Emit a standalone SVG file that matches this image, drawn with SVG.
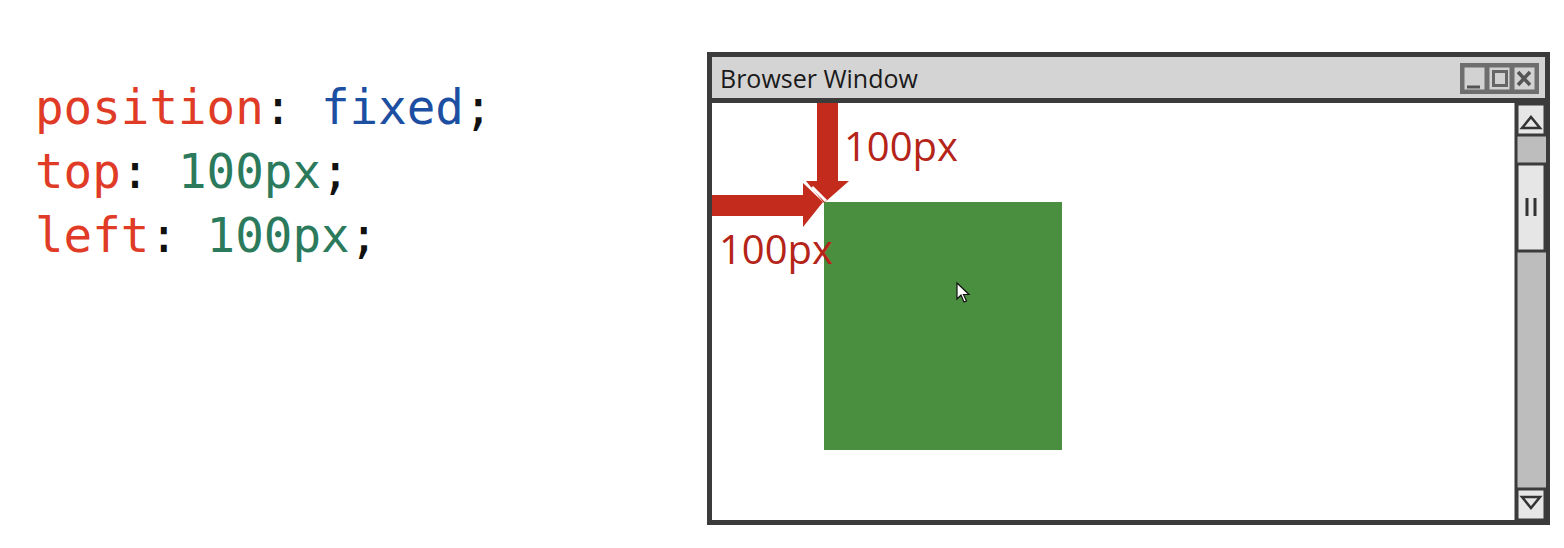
<svg xmlns="http://www.w3.org/2000/svg" width="1564" height="548" viewBox="0 0 1564 548">
  <style>
    .code { font-family: "DejaVu Sans Mono", "Liberation Mono", monospace; font-size: 47.5px; }
    .prop { fill: #df3b26; }
    .punc { fill: #111111; }
    .kw { fill: #1c4fa1; }
    .num { fill: #2c7a5c; }
    .title { font-family: "Open Sans", "Liberation Sans", sans-serif; font-size: 25px; fill: #1a1a1a; }
    .dim { font-family: "Open Sans", "Liberation Sans", sans-serif; font-size: 40px; fill: #b52418; }
    .frame { stroke: #3b3b3b; }
    .arrow { fill: #c32b1c; }
    .btn { fill: #d2d2d2; stroke: #6e6e6e; stroke-width: 3; }
    .sb { fill: #e6e6e6; stroke: #3b3b3b; stroke-width: 3; }
  </style>

  <rect width="1564" height="548" fill="#ffffff"/>

  <!-- CSS snippet -->
  <g id="code">
    <text class="code" x="35" y="124"><tspan class="prop">position</tspan><tspan class="punc">: </tspan><tspan class="kw">fixed</tspan><tspan class="punc">;</tspan></text>
    <text class="code" x="35" y="188"><tspan class="prop">top</tspan><tspan class="punc">: </tspan><tspan class="num">100px</tspan><tspan class="punc">;</tspan></text>
    <text class="code" x="35" y="252"><tspan class="prop">left</tspan><tspan class="punc">: </tspan><tspan class="num">100px</tspan><tspan class="punc">;</tspan></text>
  </g>

  <!-- Browser window frame -->
  <g id="window">
    <rect x="709.5" y="54.5" width="838" height="468" fill="#ffffff" class="frame" stroke-width="5"/>
    <rect x="712" y="57" width="833" height="42" fill="#d4d4d4"/>
    <line x1="712" y1="100.5" x2="1545" y2="100.5" class="frame" stroke-width="5"/>
    <text class="title" x="720" y="88">Browser Window</text>
    <!-- title bar buttons -->
    <g id="buttons">
      <rect x="1461.5" y="64.5" width="76" height="28" fill="#bdbdbd" stroke="#6e6e6e" stroke-width="3"/>
      <rect x="1463" y="66" width="23" height="25" class="btn"/>
      <line x1="1467" y1="87" x2="1480" y2="87" stroke="#555" stroke-width="3"/>
      <rect x="1488" y="66" width="23" height="25" class="btn"/>
      <rect x="1493.5" y="71.5" width="13" height="14" fill="none" stroke="#666" stroke-width="3"/>
      <rect x="1513" y="66" width="23" height="25" class="btn"/>
      <path d="M1518,72 L1530,85 M1530,72 L1518,85" stroke="#555" stroke-width="3.5"/>
    </g>
    <!-- vertical scrollbar -->
    <g id="scrollbar">
      <rect x="1516" y="103" width="30" height="417" fill="#bdbdbd"/>
      <line x1="1516" y1="103" x2="1516" y2="520" class="frame" stroke-width="3"/>
      <rect x="1517" y="104" width="28" height="31" class="sb"/>
      <path d="M1522,128 L1531,117 L1540,128 Z" fill="none" stroke="#333" stroke-width="2.5"/>
      <rect x="1517" y="164" width="28" height="87" class="sb"/>
      <path d="M1527,198 V216 M1535,198 V216" stroke="#333" stroke-width="3"/>
      <rect x="1517" y="489" width="28" height="31" class="sb"/>
      <path d="M1522,497 L1531,508 L1540,497 Z" fill="none" stroke="#333" stroke-width="2.5"/>
    </g>
  </g>

  <!-- fixed element -->
  <g id="box">
    <rect x="824" y="202" width="238" height="248" fill="#4a8f3f"/>
    <path d="M957,283 L957,299 L961,295 L964,302 L966.5,301 L963.5,294.5 L969,294.5 Z" fill="#ffffff" stroke="#111" stroke-width="1.2"/>
  </g>

  <!-- offset arrows -->
  <g id="connectors">
    <path class="arrow" d="M817,103 H838 V181 H849 L824,203 L806,181 H817 Z"/>
    <path class="arrow" d="M712,195 H803 V183 L823,202 L803,227 V216 H712 Z"/>
    <line x1="812" y1="187" x2="826" y2="201" stroke="#ffffff" stroke-width="3"/>
  </g>

  <g id="labels">
    <text class="dim" x="844" y="161">100px</text>
    <text class="dim" x="719" y="264">100px</text>
  </g>
</svg>
